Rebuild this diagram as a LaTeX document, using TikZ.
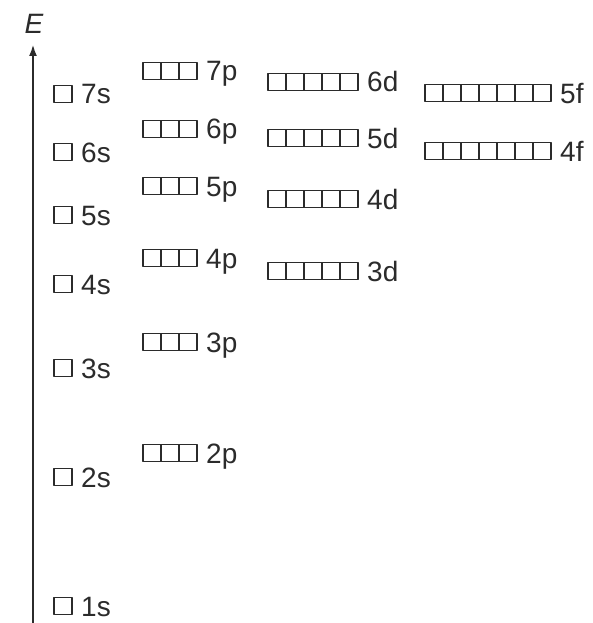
\documentclass[tikz,border=0pt]{standalone}
\usepackage{fontspec}
\setmainfont{Liberation Sans}
\usetikzlibrary{arrows.meta}
\definecolor{ink}{HTML}{2B2B2B}
\tikzstyle{every node}=[font=\fontsize{28}{32}\selectfont,text=ink]
\tikzstyle{every path}=[line cap=round,line join=round]
\tikzstyle{cell}=[draw=ink,line width=1.7pt]
\tikzstyle{lbl}=[anchor=base west,inner sep=0pt]

\begin{document}
\begin{tikzpicture}[x=1pt,y=-1pt]
%Energy order of the atomic orbitals
	\useasboundingbox (0,0) rectangle (592,623);
	\newcommand\cw{18} %width of one box
	\newcommand\ch{17} %height of one box
	\newcommand\orbit[5]{% #1 name, #2 left of boxes, #3 middle height, #4 number of boxes, #5 label
		\foreach \i in {1,...,#4} \draw[cell] ({#2+(\i-1)*\cw},{#3-\ch/2}) rectangle ++(\cw,\ch);
		\node[lbl] (#1) at ({#2+#4*\cw+9},{#3+10}) {#5};}
	%axis
	\coordinate (axisB) at (33,623) ; %% bottom of the energy axis
	\coordinate (axisT) at (33,44) ; %% tip of the arrow
	\draw [draw=ink,line width=2.6pt,-{Latex[length=12pt,width=8pt]}] (axisB) -- (axisT);
	\node (E) at (34,24) {\itshape E};
	%s orbitals
	\orbit{s7}{54}{94}{1}{7s}
	\orbit{s6}{54}{152}{1}{6s}
	\orbit{s5}{54}{215}{1}{5s}
	\orbit{s4}{54}{284}{1}{4s}
	\orbit{s3}{54}{368}{1}{3s}
	\orbit{s2}{54}{477}{1}{2s}
	\orbit{s1}{54}{606}{1}{1s}
	%p orbitals
	\orbit{p7}{143}{71}{3}{7p}
	\orbit{p6}{143}{129}{3}{6p}
	\orbit{p5}{143}{186}{3}{5p}
	\orbit{p4}{143}{258}{3}{4p}
	\orbit{p3}{143}{342}{3}{3p}
	\orbit{p2}{143}{453}{3}{2p}
	%d orbitals
	\orbit{d6}{268}{82}{5}{6d}
	\orbit{d5}{268}{138}{5}{5d}
	\orbit{d4}{268}{199}{5}{4d}
	\orbit{d3}{268}{271}{5}{3d}
	%f orbitals
	\orbit{f5}{425}{93}{7}{5f}
	\orbit{f4}{425}{151}{7}{4f}
\end{tikzpicture}
\end{document}
